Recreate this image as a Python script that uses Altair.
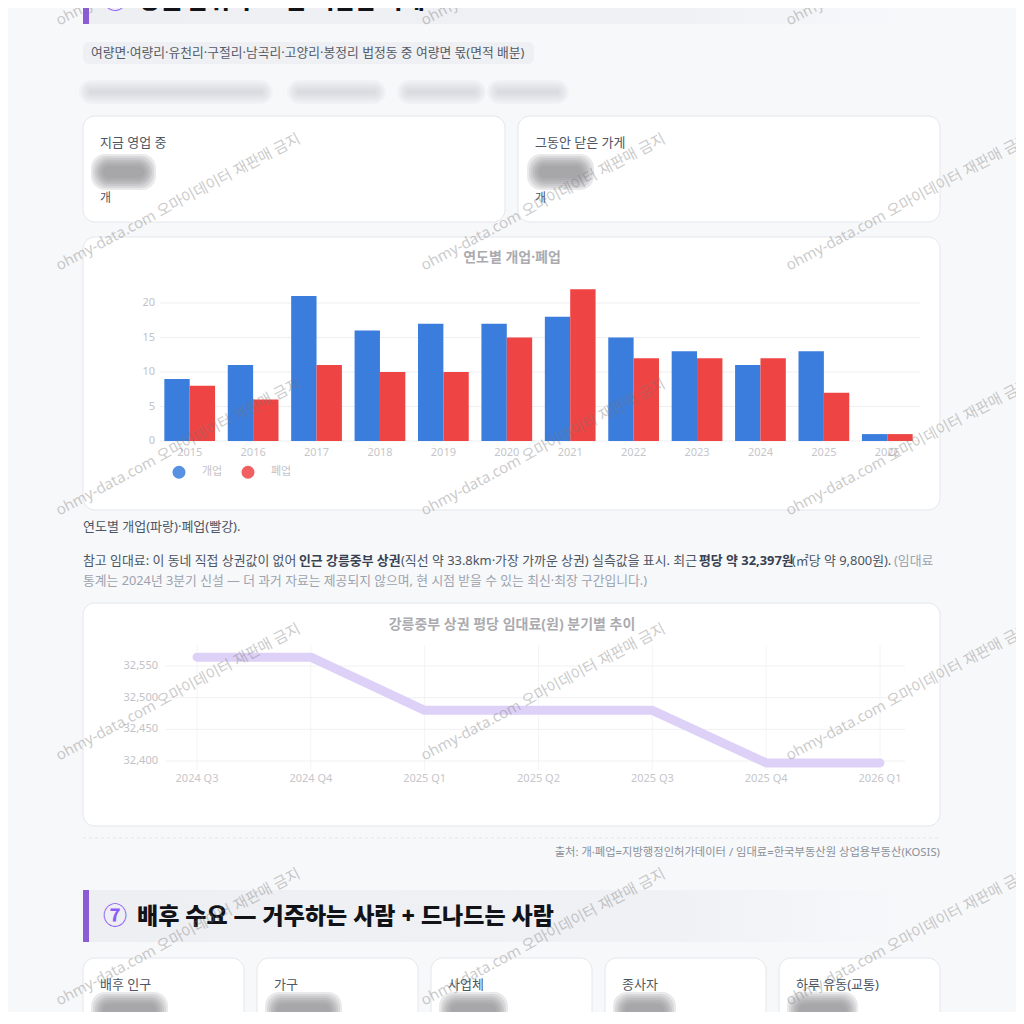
import altair as alt
import pandas as pd

FONT = "Noto Sans, Noto Sans CJK KR, sans-serif"

# ---------------- data ----------------
years = ["2015", "2016", "2017", "2018", "2019", "2020",
         "2021", "2022", "2023", "2024", "2025", "2026"]
openings = [9, 11, 21, 16, 17, 17, 18, 15, 13, 11, 13, 1]
closures = [8, 6, 11, 10, 10, 15, 22, 12, 12, 12, 7, 1]
series_names = ["개업", "폐업"]
bar_ticks = [0, 5, 10, 15, 20]

quarters = ["2024 Q3", "2024 Q4", "2025 Q1", "2025 Q2", "2025 Q3", "2025 Q4", "2026 Q1"]
rent_per_pyeong = [32564, 32564, 32480, 32480, 32480, 32397, 32397]
rent_ticks = [32400, 32450, 32500, 32550]

bar_title = "연도별 개업·폐업"
line_title = "강릉중부 상권 평당 임대료(원) 분기별 추이"

BLUE = "#3b7ddd"
RED = "#ef4444"
PURPLE = "#8b5cd6"


# page coordinates -> chart coordinates (page has an 8px margin)
def X(v):
    return v - 8


def Y(v):
    return v - 8


def rect_layer(rows, **mark):
    df = pd.DataFrame([{"x": X(a), "x2": X(b), "y": Y(c), "y2": Y(d)} for a, b, c, d in rows])
    return alt.Chart(df).mark_rect(**mark).encode(
        x=alt.X("x:Q", scale=None, axis=None), x2="x2:Q",
        y=alt.Y("y:Q", scale=None, axis=None), y2="y2:Q")


def text_layer(rows, **mark):
    df = pd.DataFrame([{"t": t, "x": X(a), "y": Y(b)} for t, a, b in rows])
    return alt.Chart(df).mark_text(font=FONT, **mark).encode(
        x=alt.X("x:Q", scale=None, axis=None),
        y=alt.Y("y:Q", scale=None, axis=None),
        text="t:N")


def blob_layer(items, color, op):
    # soft, blurred-looking placeholder for values that are blurred in the page
    rows = []
    for (a, b, cy, h) in items:
        for grow in [16, 12, 8, 4, 0, -4, -8]:
            rows.append({"x": X(a - grow / 2), "x2": X(b + grow / 2),
                         "y": Y(cy - (h + grow) / 2), "y2": Y(cy + (h + grow) / 2)})
    df = pd.DataFrame(rows)
    return alt.Chart(df).mark_rect(color=color, cornerRadius=14, opacity=op).encode(
        x=alt.X("x:Q", scale=None, axis=None), x2="x2:Q",
        y=alt.Y("y:Q", scale=None, axis=None), y2="y2:Q")


layers = []

# ---- section headers ----
grad = alt.LinearGradient(
    gradient="linear",
    stops=[alt.GradientStop(color="#eeeff2", offset=0),
           alt.GradientStop(color="#f0f1f4", offset=0.72),
           alt.GradientStop(color="#f7f8fa", offset=1)],
    x1=0, x2=1, y1=0, y2=0)
layers.append(rect_layer([(89, 905, 0, 24), (89, 905, 890, 942)], color=grad))
layers.append(rect_layer([(83, 89, 0, 24), (83, 89, 890, 942)], color=PURPLE))
layers.append(text_layer([("⑥", 103, 1), ("⑦", 103, 917)], fontSize=24, fontWeight="bold",
                         color="#8b5cf6", align="left", baseline="middle"))
layers.append(text_layer([("상권 분위기 — 문 여닫은 가게", 139, 1),
                          ("배후 수요 — 거주하는 사람 + 드나드는 사람", 137, 917)],
                         fontSize=23, fontWeight=900, color="#111318",
                         align="left", baseline="middle"))

# ---- pill ----
layers.append(rect_layer([(83, 534, 42, 64)], color="#eef0f4", cornerRadius=6))
layers.append(text_layer([("여량면·여량리·유천리·구절리·남곡리·고양리·봉정리 법정동 중 여량면 몫(면적 배분)", 91, 53)],
                         fontSize=12.8, color="#555b66", align="left", baseline="middle"))

# ---- cards ----
cards = [(83, 505, 116, 222), (518, 940, 116, 222),
         (83, 940, 237, 510), (83, 940, 603, 826),
         (83, 244, 958, 1060), (257, 418, 958, 1060), (431, 592, 958, 1060),
         (605, 766, 958, 1060), (779, 940, 958, 1060)]
layers.append(rect_layer(cards, color="#ffffff", stroke="#e4e6eb", strokeWidth=1, cornerRadius=12))

layers.append(text_layer([("지금 영업 중", 100, 143), ("그동안 닫은 가게", 535, 143),
                          ("배후 인구", 100, 985), ("가구", 274, 985), ("사업체", 448, 985),
                          ("종사자", 622, 985), ("하루 유동(교통)", 796, 985)],
                         fontSize=13, color="#4b5563", align="left", baseline="middle"))
layers.append(text_layer([("개", 100, 198), ("개", 535, 198)],
                         fontSize=12, color="#4b5563", align="left", baseline="middle"))

# blurred values
layers.append(blob_layer([(99, 148, 172, 20), (535, 586, 172, 20),
                          (99, 160, 1010, 20), (273, 334, 1010, 20), (447, 500, 1010, 20),
                          (621, 668, 1010, 20), (795, 850, 1010, 20)], "#8f9096", 0.2))
layers.append(blob_layer([(87, 265, 92, 8), (295, 378, 92, 8),
                          (405, 478, 92, 8), (495, 561, 92, 8)], "#b9bac0", 0.085))

# ---- bar chart ----
bar_x = alt.Scale(domain=years, range=[X(158), X(919)], paddingInner=0.2, paddingOuter=0.1)
bar_y = alt.Scale(domain=[0, 20], range=[Y(441), Y(303)], nice=False, zero=True)

tick_df = pd.DataFrame({"v": bar_ticks})
layers.append(alt.Chart(tick_df).mark_rule(color="#eeeff1", strokeWidth=1).encode(
    y=alt.Y("v:Q", scale=bar_y, axis=None),
    x=alt.value(X(160)), x2=alt.value(X(920))))
layers.append(alt.Chart(tick_df).mark_text(font=FONT, fontSize=11, color="#c2c2c6",
                                           align="right", baseline="middle").encode(
    y=alt.Y("v:Q", scale=bar_y, axis=None),
    x=alt.value(X(155)), text="v:Q"))

bar_rows = []
for yr, o, c in zip(years, openings, closures):
    bar_rows.append({"year": yr, "type": series_names[0], "value": o})
    bar_rows.append({"year": yr, "type": series_names[1], "value": c})
bar_df = pd.DataFrame(bar_rows)

layers.append(alt.Chart(bar_df).mark_bar().encode(
    x=alt.X("year:N", sort=years, scale=bar_x, axis=None),
    xOffset=alt.XOffset("type:N", sort=series_names),
    y=alt.Y("value:Q", scale=bar_y, axis=None),
    color=alt.Color("type:N", sort=series_names,
                    scale=alt.Scale(domain=series_names, range=[BLUE, RED]),
                    legend=alt.Legend(orient="none", legendX=X(172), legendY=Y(465),
                                      direction="horizontal", title=None,
                                      symbolType="circle", symbolSize=170,
                                      symbolStrokeWidth=0, symbolOpacity=0.85,
                                      labelFont=FONT, labelFontSize=11,
                                      labelColor="#c3c3c7", labelOffset=16,
                                      columnPadding=18, padding=0))))

layers.append(alt.Chart(pd.DataFrame({"year": years})).mark_text(
    font=FONT, fontSize=11, color="#c6c6ca", baseline="middle").encode(
    x=alt.X("year:N", sort=years, scale=bar_x, axis=None),
    y=alt.value(Y(453)), text="year:N"))

layers.append(text_layer([(bar_title, 512, 258), (line_title, 512, 625)],
                         fontSize=14, fontWeight="bold", color="#ababaf",
                         align="center", baseline="middle"))

# ---- line chart ----
line_x = alt.Scale(type="point", domain=quarters, range=[X(197), X(880)], padding=0)
line_y = alt.Scale(domain=[rent_ticks[0], rent_ticks[-1]], range=[Y(761), Y(666)],
                   zero=False, nice=False)

layers.append(alt.Chart(pd.DataFrame({"q": quarters})).mark_rule(color="#f4f4f6").encode(
    x=alt.X("q:N", sort=quarters, scale=line_x, axis=None),
    y=alt.value(Y(645)), y2=alt.value(Y(770))))
rt_df = pd.DataFrame({"v": rent_ticks})
layers.append(alt.Chart(rt_df).mark_rule(color="#f1f1f3").encode(
    y=alt.Y("v:Q", scale=line_y, axis=None),
    x=alt.value(X(165)), x2=alt.value(X(905))))
layers.append(alt.Chart(rt_df).mark_text(font=FONT, fontSize=11, color="#c2c2c6",
                                         align="right", baseline="middle").encode(
    y=alt.Y("v:Q", scale=line_y, axis=None),
    x=alt.value(X(158)), text=alt.Text("v:Q", format=",")))

line_df = pd.DataFrame({"q": quarters, "rent": rent_per_pyeong})
layers.append(alt.Chart(line_df).mark_line(color="#ded1f7", strokeWidth=9,
                                           strokeCap="round", strokeJoin="round").encode(
    x=alt.X("q:N", sort=quarters, scale=line_x, axis=None),
    y=alt.Y("rent:Q", scale=line_y, axis=None)))
layers.append(alt.Chart(pd.DataFrame({"q": quarters})).mark_text(
    font=FONT, fontSize=11, color="#c6c6ca", baseline="middle").encode(
    x=alt.X("q:N", sort=quarters, scale=line_x, axis=None),
    y=alt.value(Y(779)), text="q:N"))

# ---- body text ----
layers.append(text_layer([("연도별 개업(파랑)·폐업(빨강).", 83, 527)],
                         fontSize=13, color="#4b5563", align="left", baseline="middle"))
layers.append(text_layer([("참고 임대료: 이 동네 직접 상권값이 없어", 83, 561),
                          ("(직선 약 33.8km·가장 가까운 상권) 실측값을 표시. 최근", 401, 561),
                          ("(㎡당 약 9,800원).", 792, 561)],
                         fontSize=12.9, color="#4b5563", align="left", baseline="middle"))
layers.append(text_layer([("인근 강릉중부 상권", 299, 561), ("평당 약 32,397원", 699, 561)],
                         fontSize=12.9, fontWeight="bold", color="#374151",
                         align="left", baseline="middle"))
layers.append(text_layer([("(임대료", 894, 561)],
                         fontSize=12.9, color="#9ca3af", align="left", baseline="middle"))
layers.append(text_layer([("통계는 2024년 3분기 신설 — 더 과거 자료는 제공되지 않으며, 현 시점 받을 수 있는 최신·최장 구간입니다.)", 83, 581)],
                         fontSize=12.8, color="#9ca3af", align="left", baseline="middle"))

# ---- source ----
layers.append(alt.Chart(pd.DataFrame({"a": [0]})).mark_rule(
    color="#e3e5e9", strokeDash=[3, 3]).encode(
    x=alt.value(X(83)), x2=alt.value(X(940)), y=alt.value(Y(838))))
layers.append(text_layer([("출처: 개·폐업=지방행정인허가데이터 / 임대료=한국부동산원 상업용부동산(KOSIS)", 940, 853)],
                         fontSize=11.3, color="#8b9099", align="right", baseline="middle"))

# ---- watermarks ----
wm = []
for cx in [178, 543, 908]:
    for cy in [-43, 202, 447, 692, 937]:
        wm.append(("ohmy-data.com 오마이데이터 재판매 금지", cx, cy))
layers.append(text_layer(wm, fontSize=15, color="#777777", opacity=0.38, angle=332,
                         align="center", baseline="middle"))

chart = alt.layer(*layers).properties(
    width=1008, height=1004, background="#f7f8fa", padding=0,
    autosize=alt.AutoSizeParams(type="none")
).resolve_scale(x="independent", y="independent").configure_view(stroke=None)

chart.save("out.html", embed_options={"renderer": "svg", "actions": False})
